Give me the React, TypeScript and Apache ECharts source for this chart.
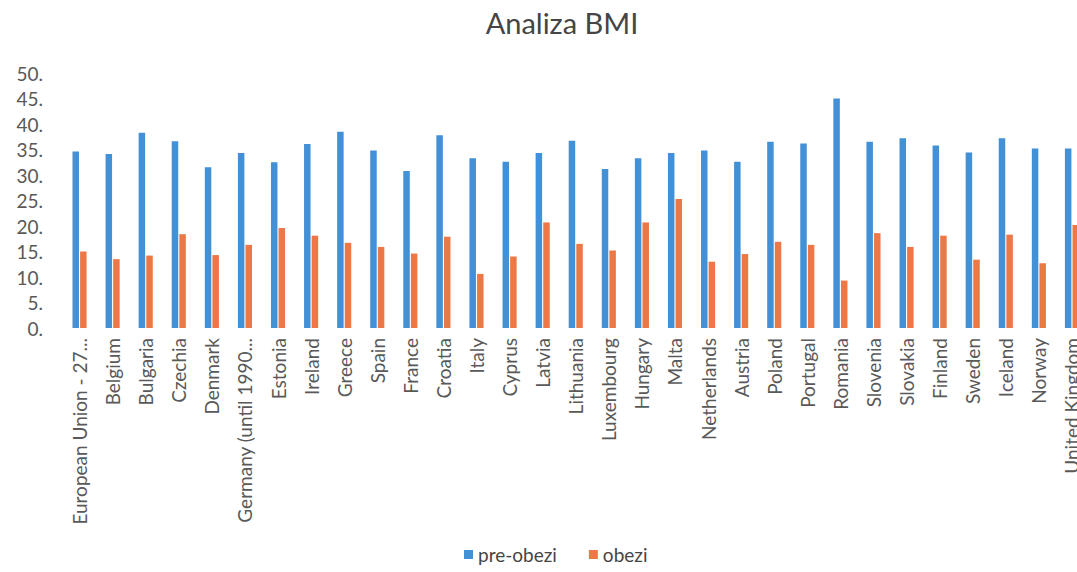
import React, { useEffect, useRef } from "react";
import * as echarts from "echarts";

const categories = [
  "European Union - 27...", "Belgium", "Bulgaria", "Czechia", "Denmark",
  "Germany (until 1990...", "Estonia", "Ireland", "Greece", "Spain", "France",
  "Croatia", "Italy", "Cyprus", "Latvia", "Lithuania", "Luxembourg", "Hungary",
  "Malta", "Netherlands", "Austria", "Poland", "Portugal", "Romania", "Slovenia",
  "Slovakia", "Finland", "Sweden", "Iceland", "Norway", "United Kingdom",
];

const preObezi = [
  34.6, 34.1, 38.3, 36.6, 31.5, 34.3, 32.5, 36.1, 38.5, 34.8, 30.8,
  37.8, 33.3, 32.6, 34.3, 36.7, 31.2, 33.3, 34.3, 34.8, 32.6, 36.5,
  36.2, 45.0, 36.5, 37.2, 35.8, 34.4, 37.2, 35.2, 35.2,
];

const obezi = [
  15.0, 13.5, 14.2, 18.4, 14.3, 16.3, 19.6, 18.1, 16.7, 15.9, 14.6,
  17.9, 10.6, 14.0, 20.7, 16.5, 15.2, 20.7, 25.3, 13.0, 14.5, 16.9,
  16.3, 9.3, 18.6, 15.9, 18.1, 13.4, 18.3, 12.7, 20.2,
];

const yTicks = { min: 0, max: 50, interval: 5 };

export default function App() {
  const ref = useRef<HTMLDivElement>(null);
  useEffect(() => {
    document.body.style.margin = "0";
    const chart = echarts.init(ref.current!, null, { renderer: "svg" });
    const font = "Lato, 'Open Sans', sans-serif";
    chart.setOption({
      animation: false,
      backgroundColor: "#ffffff",
      title: {
        text: "Analiza BMI",
        left: 557,
        textAlign: "center",
        top: 3,
        textStyle: { fontFamily: font, fontSize: 29, fontWeight: "normal", color: "#454545" },
      },
      legend: {
        data: ["pre-obezi", "obezi"],
        left: 459,
        bottom: 3,
        orient: "horizontal",
        icon: "rect",
        itemWidth: 9,
        itemHeight: 9,
        itemGap: 32,
        textStyle: { fontFamily: font, fontSize: 19, color: "#454545" },
      },
      grid: { left: 63, right: 11.5, top: 73, bottom: 244, containLabel: false },
      xAxis: {
        type: "category",
        data: categories,
        axisLine: { show: false },
        axisTick: { show: false },
        axisLabel: {
          rotate: 90,
          interval: 0,
          margin: 10,
          fontFamily: font,
          fontSize: 19,
          color: "#595959",
        },
      },
      yAxis: {
        type: "value",
        min: yTicks.min,
        max: yTicks.max,
        interval: yTicks.interval,
        splitLine: { show: false },
        axisLine: { show: false },
        axisTick: { show: false },
        axisLabel: {
          margin: 20,
          fontFamily: font,
          fontSize: 19,
          color: "#595959",
          formatter: (v: number) => `${v}.`,
        },
      },
      series: [
        {
          name: "pre-obezi",
          type: "bar",
          data: preObezi,
          barWidth: 6.5,
          barGap: "17%",
          itemStyle: { color: "#4290d6" },
        },
        {
          name: "obezi",
          type: "bar",
          data: obezi,
          barWidth: 6.5,
          barGap: "17%",
          itemStyle: { color: "#ec7847" },
        },
      ],
    });
    return () => chart.dispose();
  }, []);
  return (
    <div style={{ width: 1077, height: 572, overflow: "hidden", position: "relative" }}>
      <div ref={ref} style={{ width: 1100, height: 572 }} />
    </div>
  );
}
